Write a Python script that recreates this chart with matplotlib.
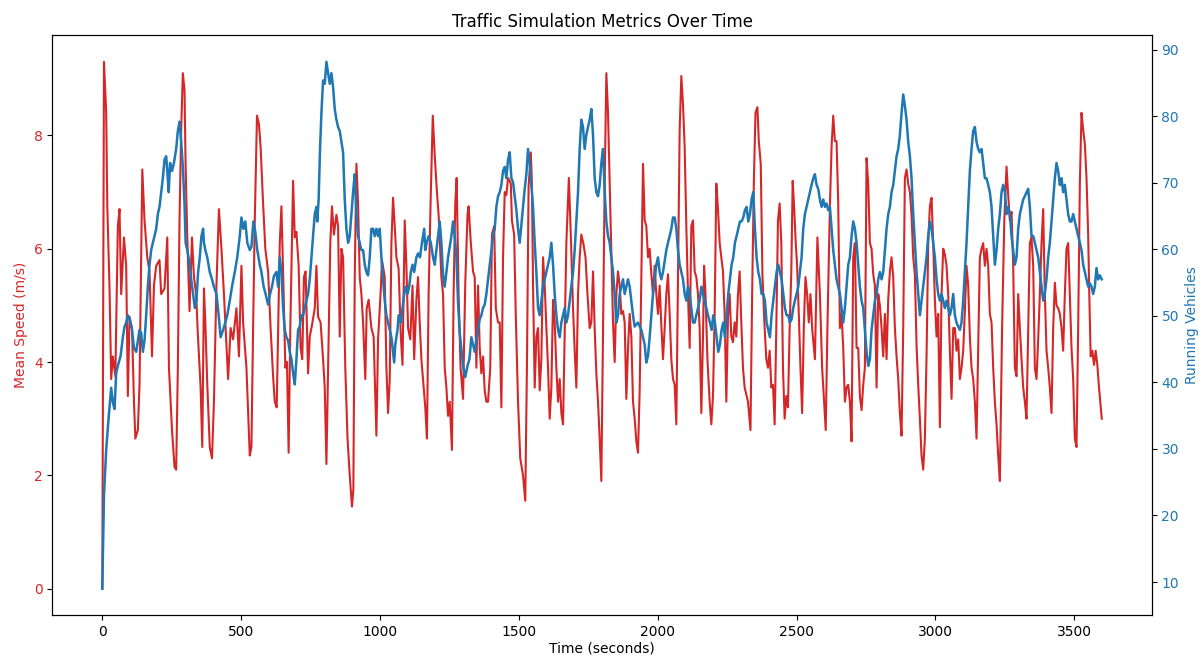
import matplotlib
matplotlib.use("Agg")
import matplotlib.pyplot as plt

# values (peaks / troughs of each trace)
speed_time = [
    0, 6, 14, 18, 26, 32, 38, 47, 56, 62, 68, 78, 86, 92, 98, 107, 114, 119, 128, 134,
    144, 152, 162, 170, 179, 186, 194, 206, 212, 224, 234, 240, 251, 260, 266, 272, 278, 284, 290, 296,
    300, 306, 314, 323, 330, 338, 344, 354, 360, 366, 371, 378, 387, 395, 402, 411, 420, 429, 438, 447,
    453, 462, 471, 483, 492, 501, 507, 519, 531, 537, 543, 549, 557, 564, 570, 579, 587, 597, 606, 615,
    621, 628, 639, 645, 653, 659, 665, 671, 677, 687, 693, 699, 707, 714, 720, 726, 732, 741, 747, 755,
    765, 771, 777, 786, 795, 801, 807, 813, 821, 827, 834, 843, 849, 855, 861, 867, 875, 883, 891, 899,
    904, 909, 915, 921, 927, 933, 939, 947, 952, 959, 969, 977, 987, 993, 1003, 1007, 1017, 1023, 1029, 1035,
    1041, 1047, 1053, 1059, 1067, 1075, 1081, 1089, 1095, 1101, 1109, 1117, 1123, 1131, 1137, 1143, 1149, 1157, 1163, 1169,
    1175, 1183, 1190, 1197, 1205, 1211, 1221, 1227, 1233, 1239, 1245, 1251, 1259, 1265, 1271, 1276, 1283, 1290, 1299, 1307,
    1315, 1319, 1327, 1335, 1341, 1347, 1353, 1359, 1365, 1371, 1377, 1383, 1389, 1397, 1403, 1411, 1417, 1425, 1431, 1437,
    1443, 1449, 1455, 1461, 1471, 1475, 1483, 1489, 1497, 1505, 1515, 1523, 1529, 1535, 1543, 1547, 1551, 1557, 1563, 1569,
    1575, 1581, 1587, 1593, 1599, 1605, 1611, 1617, 1623, 1629, 1635, 1641, 1647, 1653, 1659, 1665, 1671, 1680, 1687, 1695,
    1701, 1707, 1713, 1719, 1725, 1732, 1740, 1747, 1755, 1761, 1767, 1773, 1779, 1785, 1791, 1797, 1803, 1809, 1815, 1821,
    1827, 1833, 1839, 1845, 1851, 1857, 1863, 1869, 1875, 1881, 1887, 1893, 1899, 1905, 1911, 1917, 1923, 1929, 1935, 1947,
    1953, 1959, 1965, 1971, 1977, 1983, 1989, 1995, 2001, 2007, 2013, 2019, 2025, 2031, 2037, 2043, 2049, 2055, 2061, 2067,
    2073, 2079, 2085, 2091, 2097, 2103, 2109, 2115, 2121, 2127, 2133, 2139, 2145, 2151, 2157, 2163, 2167, 2172, 2179, 2187,
    2193, 2199, 2205, 2211, 2217, 2223, 2229, 2235, 2241, 2247, 2253, 2259, 2265, 2271, 2277, 2283, 2289, 2295, 2301, 2307,
    2313, 2325, 2334, 2340, 2346, 2352, 2359, 2364, 2371, 2377, 2385, 2391, 2397, 2403, 2409, 2415, 2421, 2427, 2433, 2439,
    2445, 2451, 2457, 2463, 2469, 2475, 2481, 2486, 2491, 2497, 2502, 2508, 2514, 2520, 2526, 2532, 2538, 2544, 2550, 2556,
    2566, 2575, 2584, 2592, 2599, 2605, 2611, 2620, 2626, 2632, 2638, 2644, 2650, 2656, 2662, 2668, 2674, 2680, 2686, 2692,
    2698, 2704, 2710, 2716, 2722, 2728, 2734, 2740, 2746, 2752, 2758, 2764, 2770, 2776, 2782, 2788, 2794, 2800, 2806, 2812,
    2818, 2824, 2830, 2836, 2842, 2848, 2854, 2860, 2866, 2872, 2878, 2884, 2890, 2896, 2902, 2908, 2914, 2920, 2926, 2932,
    2938, 2944, 2950, 2956, 2962, 2968, 2974, 2980, 2986, 2992, 2998, 3004, 3010, 3016, 3022, 3028, 3034, 3040, 3046, 3052,
    3058, 3064, 3070, 3076, 3082, 3088, 3094, 3100, 3106, 3112, 3118, 3124, 3130, 3136, 3142, 3148, 3154, 3160, 3166, 3172,
    3178, 3184, 3190, 3196, 3202, 3208, 3214, 3220, 3226, 3232, 3240, 3248, 3256, 3262, 3268, 3274, 3280, 3286, 3292, 3298,
    3304, 3310, 3316, 3322, 3328, 3334, 3340, 3346, 3352, 3358, 3364, 3370, 3376, 3382, 3388, 3394, 3400, 3406, 3412, 3418,
    3424, 3430, 3436, 3442, 3448, 3454, 3460, 3466, 3472, 3478, 3484, 3490, 3496, 3502, 3508, 3514, 3520, 3526, 3532, 3538,
    3544, 3550, 3554, 3559, 3565, 3571, 3577, 3583, 3589, 3599,
]
mean_speed = [
    0, 9.3, 8.4, 6.75, 5.3, 3.7, 4.1, 3.75, 6.4, 6.7, 5.2, 6.2, 5.7, 3.4, 4.8, 4.6, 3.3, 2.65, 2.8, 3.6,
    7.4, 6.5, 5.85, 5.6, 4.1, 5.35, 5.7, 5.8, 5.2, 5.3, 6.2, 3.9, 2.8, 2.15, 2.1, 3.9, 6.5, 8.1, 9.1, 8.8,
    7.45, 6.2, 4.9, 6.2, 5.5, 5.2, 4.5, 3.55, 2.5, 5.3, 4.7, 3.6, 2.5, 2.3, 3.3, 5.35, 6.7, 6.0, 5.2, 4.3,
    3.7, 4.6, 4.4, 4.95, 4.1, 5.7, 4.7, 3.9, 2.35, 2.5, 4.6, 6.5, 8.35, 8.2, 7.8, 6.8, 6.0, 5.6, 4.6, 3.75,
    3.3, 3.2, 6.1, 6.75, 5.2, 3.9, 4.0, 2.4, 4.6, 7.2, 6.2, 6.3, 5.7, 4.25, 4.05, 5.5, 5.6, 3.8, 4.45, 4.65,
    4.95, 5.7, 4.8, 4.7, 4.05, 3.55, 2.2, 3.9, 6.1, 6.75, 6.25, 6.6, 6.4, 4.45, 6.0, 5.85, 3.9, 2.65, 2.0, 1.45,
    1.75, 5.5, 7.5, 6.8, 5.5, 5.2, 4.7, 3.7, 4.95, 5.1, 4.6, 4.45, 2.7, 4.4, 5.3, 5.8, 5.5, 3.9, 3.1, 3.7,
    6.1, 6.9, 6.4, 5.85, 5.65, 4.45, 3.95, 6.5, 5.7, 4.6, 4.4, 5.35, 4.05, 5.1, 5.5, 4.7, 4.05, 3.55, 3.2, 2.65,
    5.2, 7.0, 8.35, 7.65, 7.0, 6.6, 5.5, 5.2, 3.9, 3.55, 3.05, 3.3, 2.45, 5.2, 6.8, 7.25, 5.2, 3.9, 3.35, 5.4,
    6.6, 6.75, 6.1, 5.6, 5.5, 3.9, 5.35, 4.25, 3.8, 4.1, 3.5, 3.3, 3.3, 3.9, 6.25, 6.4, 4.95, 4.7, 4.7, 3.2,
    5.85, 7.0, 6.95, 7.25, 7.15, 6.5, 6.25, 4.8, 3.3, 2.3, 2.0, 1.55, 3.9, 7.1, 7.7, 7.15, 5.35, 3.55, 4.45, 4.6,
    3.5, 4.05, 5.85, 5.35, 4.6, 3.9, 3.0, 3.55, 5.1, 4.7, 3.9, 3.3, 3.7, 3.1, 2.9, 4.45, 6.1, 7.25, 6.25, 4.95,
    4.2, 3.55, 5.2, 5.85, 6.25, 6.1, 5.85, 5.2, 4.6, 4.7, 5.6, 4.6, 3.8, 3.3, 2.65, 1.9, 4.6, 7.15, 9.1, 8.4,
    7.15, 5.85, 4.7, 4.0, 5.2, 5.6, 5.35, 4.85, 4.9, 4.7, 3.35, 4.25, 4.85, 4.45, 3.3, 3.0, 2.6, 2.4, 3.5, 7.5,
    6.5, 6.4, 5.85, 6.0, 5.55, 5.2, 5.7, 5.2, 4.85, 5.35, 4.65, 4.05, 4.6, 5.2, 5.55, 4.85, 4.05, 3.7, 3.6, 2.9,
    5.55, 8.1, 9.05, 8.55, 7.8, 6.4, 5.2, 4.25, 6.4, 6.5, 5.6, 5.5, 5.2, 4.6, 3.1, 4.45, 5.7, 5.2, 4.05, 3.3,
    2.9, 3.4, 4.85, 7.15, 6.7, 6.1, 5.85, 5.6, 4.85, 3.3, 4.8, 5.2, 4.45, 4.35, 4.7, 4.45, 5.2, 5.6, 4.7, 3.9,
    3.55, 3.3, 2.8, 5.2, 7.15, 8.4, 8.5, 7.9, 7.5, 5.55, 4.6, 4.05, 3.9, 4.2, 3.55, 3.6, 2.9, 4.6, 6.5, 6.8,
    6.1, 3.9, 3.0, 3.4, 3.2, 4.6, 5.6, 7.2, 6.75, 6.1, 5.7, 4.85, 3.9, 3.1, 4.6, 5.5, 5.2, 4.7, 5.2, 4.6,
    4.05, 6.2, 5.2, 3.9, 3.3, 2.8, 4.6, 6.75, 7.8, 8.35, 7.9, 7.9, 6.8, 4.6, 4.85, 4.25, 3.3, 3.55, 3.6, 3.3,
    2.6, 5.85, 6.1, 4.25, 4.25, 3.4, 3.15, 3.6, 3.9, 7.6, 7.15, 6.1, 6.0, 5.55, 5.35, 3.55, 5.2, 5.0, 4.6, 4.1,
    4.85, 4.05, 5.1, 5.6, 5.85, 5.5, 4.6, 4.1, 3.7, 3.1, 2.7, 4.6, 7.25, 7.4, 7.15, 7.0, 6.6, 5.85, 5.55, 4.3,
    3.6, 3.0, 2.35, 2.1, 2.65, 4.1, 6.1, 6.75, 6.9, 6.1, 5.1, 4.45, 4.85, 2.85, 5.2, 6.0, 5.9, 5.7, 5.2, 4.2,
    3.35, 4.6, 4.6, 4.2, 4.4, 3.7, 3.9, 4.2, 4.9, 5.7, 5.35, 4.45, 3.9, 3.7, 3.3, 2.65, 4.25, 5.85, 6.0, 6.1,
    5.7, 6.0, 5.7, 4.85, 4.7, 3.9, 3.3, 2.9, 2.35, 1.9, 4.6, 6.5, 7.45, 6.95, 6.5, 6.65, 5.7, 3.9, 3.75, 5.2,
    4.6, 4.05, 3.55, 3.3, 3.0, 4.6, 6.1, 6.2, 5.7, 3.9, 3.7, 4.4, 5.2, 6.1, 6.7, 5.2, 4.2, 3.9, 3.55, 3.1,
    4.6, 5.4, 5.0, 4.95, 4.85, 4.6, 4.2, 5.2, 6.0, 6.1, 5.2, 4.25, 3.7, 2.65, 2.5, 4.6, 7.15, 8.4, 8.1, 7.85,
    7.25, 6.25, 5.2, 4.1, 4.2, 3.95, 4.2, 3.95, 3.55, 3.0,
]

vehicles_time = [
    0, 6, 14, 23, 32, 38, 44, 50, 56, 66, 74, 80, 86, 92, 98, 107, 114, 122, 128, 134,
    140, 146, 152, 158, 164, 170, 176, 182, 188, 194, 200, 206, 212, 218, 224, 230, 234, 239, 244, 251,
    258, 266, 272, 278, 284, 290, 296, 300, 306, 315, 320, 327, 333, 339, 345, 351, 357, 363, 366, 371,
    378, 387, 395, 402, 411, 419, 426, 435, 443, 450, 459, 467, 477, 486, 495, 501, 508, 515, 522, 531,
    537, 544, 551, 558, 567, 573, 581, 588, 597, 604, 611, 618, 627, 633, 639, 645, 651, 657, 663, 669,
    675, 681, 687, 693, 699, 705, 711, 717, 723, 729, 735, 741, 747, 753, 759, 765, 771, 774, 779, 784,
    789, 795, 801, 807, 813, 819, 825, 831, 837, 843, 849, 855, 861, 867, 873, 879, 885, 891, 897, 903,
    909, 915, 921, 927, 933, 939, 945, 951, 957, 963, 969, 975, 981, 987, 993, 999, 1005, 1011, 1017, 1023,
    1029, 1035, 1041, 1047, 1051, 1055, 1063, 1067, 1075, 1081, 1087, 1093, 1099, 1105, 1111, 1117, 1123, 1131, 1137, 1144,
    1151, 1159, 1163, 1168, 1175, 1183, 1191, 1197, 1203, 1209, 1215, 1221, 1227, 1233, 1239, 1245, 1251, 1257, 1263, 1269,
    1275, 1281, 1287, 1293, 1299, 1307, 1315, 1322, 1329, 1335, 1341, 1347, 1353, 1359, 1365, 1371, 1377, 1383, 1389, 1395,
    1401, 1407, 1413, 1419, 1425, 1431, 1437, 1443, 1449, 1455, 1461, 1467, 1473, 1479, 1485, 1491, 1497, 1503, 1509, 1515,
    1521, 1527, 1533, 1539, 1545, 1551, 1557, 1563, 1569, 1575, 1581, 1587, 1593, 1599, 1605, 1611, 1617, 1623, 1629, 1635,
    1641, 1647, 1653, 1659, 1665, 1671, 1677, 1683, 1689, 1695, 1701, 1707, 1713, 1719, 1725, 1731, 1737, 1743, 1749, 1755,
    1761, 1767, 1773, 1779, 1785, 1791, 1797, 1803, 1809, 1815, 1821, 1827, 1833, 1839, 1845, 1851, 1857, 1863, 1869, 1875,
    1881, 1887, 1893, 1899, 1905, 1911, 1917, 1929, 1941, 1953, 1959, 1965, 1971, 1977, 1983, 1989, 1995, 2001, 2007, 2013,
    2019, 2025, 2031, 2037, 2043, 2049, 2055, 2061, 2067, 2073, 2079, 2085, 2091, 2097, 2103, 2109, 2115, 2121, 2127, 2133,
    2139, 2145, 2151, 2157, 2163, 2169, 2175, 2181, 2188, 2194, 2200, 2206, 2212, 2218, 2224, 2230, 2236, 2242, 2248, 2254,
    2260, 2266, 2272, 2278, 2284, 2290, 2296, 2302, 2308, 2314, 2320, 2326, 2332, 2338, 2344, 2350, 2356, 2362, 2368, 2374,
    2380, 2386, 2392, 2398, 2404, 2410, 2416, 2422, 2428, 2434, 2440, 2446, 2452, 2458, 2464, 2470, 2476, 2482, 2488, 2494,
    2500, 2506, 2512, 2518, 2524, 2530, 2536, 2542, 2548, 2554, 2560, 2566, 2572, 2578, 2584, 2590, 2596, 2602, 2608, 2614,
    2620, 2626, 2632, 2638, 2644, 2650, 2656, 2662, 2668, 2674, 2680, 2686, 2692, 2698, 2704, 2710, 2716, 2722, 2728, 2734,
    2740, 2746, 2752, 2758, 2764, 2770, 2776, 2782, 2788, 2794, 2800, 2806, 2812, 2818, 2824, 2830, 2836, 2842, 2848, 2854,
    2860, 2866, 2872, 2878, 2884, 2890, 2896, 2902, 2908, 2914, 2920, 2926, 2932, 2938, 2944, 2950, 2956, 2962, 2968, 2974,
    2980, 2986, 2992, 2998, 3004, 3010, 3016, 3022, 3028, 3034, 3040, 3046, 3052, 3058, 3064, 3070, 3076, 3082, 3088, 3094,
    3100, 3106, 3112, 3118, 3124, 3130, 3136, 3142, 3148, 3154, 3160, 3166, 3172, 3178, 3184, 3190, 3196, 3202, 3208, 3214,
    3220, 3226, 3232, 3238, 3244, 3250, 3256, 3262, 3268, 3274, 3280, 3286, 3292, 3298, 3304, 3310, 3316, 3322, 3328, 3334,
    3340, 3346, 3352, 3358, 3364, 3370, 3376, 3382, 3388, 3394, 3400, 3406, 3412, 3418, 3424, 3430, 3436, 3442, 3448, 3454,
    3460, 3466, 3472, 3478, 3484, 3490, 3496, 3502, 3508, 3514, 3520, 3526, 3532, 3538, 3544, 3550, 3556, 3562, 3568, 3574,
    3580, 3586, 3592, 3599,
]
running_vehicles = [
    9, 22.9, 29.9, 34.8, 39.2, 37, 36, 41.4, 42.5, 44, 46.8, 48.4, 49, 50.1, 49.5, 47.9, 45.2, 44.6, 46.3, 47.9,
    47.4, 44.6, 46.3, 50.1, 54.4, 57.7, 59.9, 61, 62, 63.1, 65.3, 66.4, 68.6, 70.7, 73.5, 74, 71.8, 68.6, 73, 71.8,
    73, 75.1, 77.8, 79.2, 76.2, 72.4, 66.9, 61, 59.9, 57.7, 55.5, 53.3, 51.2, 52.3, 56.6, 58.8, 62, 63.1, 61, 59.9,
    58.8, 56.6, 55.5, 54.4, 53.3, 50.1, 46.8, 47.9, 49, 50.1, 52.3, 54.4, 56.6, 58.8, 62, 64.8, 63.1, 64.2, 61, 59.9,
    60.4, 64.2, 62.6, 59.9, 57.7, 56.6, 54.4, 53.3, 51.7, 53.3, 54.4, 56, 56.6, 54.4, 58.8, 56.6, 51.2, 47.9, 46.8, 46.3,
    44.6, 43.5, 41.4, 39.7, 43.5, 47.9, 48.4, 50.1, 50.1, 51.2, 52.3, 53.3, 55.5, 58.8, 62, 65.3, 66.4, 64.2, 67.5, 75.1,
    80.5, 85.4, 84.9, 88.2, 86.5, 84.9, 86.5, 84.4, 81.1, 79.5, 78.4, 77.8, 76.2, 74.6, 67.5, 63.1, 61, 62, 65.3, 68.6,
    71.3, 65.3, 62, 61, 59.9, 59.9, 57.7, 56.6, 56.1, 58.8, 63.1, 63.1, 62, 63.1, 62, 63.1, 58.8, 55.5, 52.3, 50.1,
    49, 47.9, 46.8, 44.6, 43, 45.7, 47.9, 50.1, 49, 51.2, 53.3, 54.4, 53.3, 54.4, 56.6, 57.7, 56.6, 58.8, 59.4, 58.8,
    61, 63.1, 59.9, 61, 62, 61, 58.8, 57.7, 59.9, 62, 64.2, 61, 56.1, 54.4, 56.6, 58.8, 60.4, 62, 64.2, 62,
    59, 52, 47.5, 45, 42.5, 40.8, 42.5, 43.5, 46.8, 45.7, 44.6, 46.3, 47.9, 49.5, 50.1, 51.2, 51.7, 53.3, 55.5, 57.7,
    59.9, 62, 63.1, 66.4, 68, 68.6, 69.7, 71.8, 72.4, 70.7, 73.5, 74.6, 70.7, 70.1, 68, 65.9, 63.1, 61, 63.7, 66.4,
    69.1, 71.3, 75.1, 73, 69.7, 66.4, 61, 56.6, 51.2, 50.1, 52.3, 54.4, 55.5, 56.6, 57.7, 58.8, 61, 57.7, 53.3, 50.1,
    47.9, 46.8, 49, 50.1, 51.2, 49, 50.1, 52.3, 54.4, 56.6, 59.9, 64.2, 68.6, 75.1, 79.5, 78.4, 75.1, 77.2, 78.4, 79.5,
    81.1, 77.2, 70.7, 68.6, 68, 69.7, 73, 75.1, 68.6, 64.2, 62, 61, 58.8, 56.6, 53.3, 49, 50.1, 53.3, 54.4, 55.5,
    53.3, 54.4, 55.5, 54.4, 52.3, 50.1, 48.4, 49, 47.9, 45.7, 43, 44, 46.8, 50.1, 53.3, 55.5, 57.7, 58.8, 56.6, 55.5,
    56.6, 58.2, 59.9, 61, 62, 63.1, 64.8, 64.8, 63.1, 59.9, 57.7, 56.6, 55.5, 53.3, 52.3, 54.4, 53.3, 51.2, 49, 49,
    50.1, 51.2, 52.3, 54.4, 53.3, 52.3, 51.2, 50.1, 49, 47.9, 50.1, 49, 46.8, 44.6, 45.7, 47.9, 49, 46.8, 50.1, 53.3,
    55.5, 57.7, 58.8, 61, 62, 63.1, 64.2, 64.2, 64.8, 65.9, 66.4, 64.2, 65.3, 67.5, 68.6, 63.1, 58.8, 56.6, 55.5, 53.3,
    53.3, 52.3, 49, 47.9, 46.8, 50.1, 52.3, 54.4, 56.6, 57.7, 56.6, 55.5, 53.3, 51.2, 50.1, 50.1, 49, 49.5, 51.2, 52.3,
    53.3, 54.4, 56.6, 58.8, 63.1, 65.3, 66.4, 67.5, 68.6, 69.7, 70.7, 71.3, 69.7, 69.1, 67.5, 66.4, 67.5, 66.4, 66.9, 65.9,
    66.4, 63.1, 59.9, 57.7, 55.5, 54.4, 53.3, 51.2, 49, 51.2, 54.4, 57.7, 58.8, 62, 64.2, 63.1, 61, 57.7, 54.4, 52.3,
    51.2, 47.9, 44.6, 42.5, 43.5, 47.9, 50.1, 52.3, 53.3, 55.5, 56.6, 55.5, 56.6, 59.9, 63.1, 65.3, 66.4, 68.6, 69.7, 71.8,
    74, 75.1, 77.2, 80.5, 83.3, 81.6, 79.5, 76.2, 74, 70.7, 65.3, 61, 56.6, 53.3, 50.1, 52.3, 54.4, 56.6, 58.8, 62,
    64.2, 63.1, 61, 58.8, 55.5, 53.3, 52.3, 53.3, 52.3, 51.2, 52.3, 51.2, 50.1, 51.2, 53.3, 50.1, 49, 48.4, 47.9, 49,
    52.3, 56.6, 61, 66.4, 71.8, 75.1, 77.8, 78.4, 76.2, 75.1, 74.6, 75.1, 73, 70.7, 70.7, 69.7, 68.6, 66.4, 62, 57.7,
    59.9, 63.1, 65.3, 68.6, 69.7, 68.6, 65.3, 66.4, 65.3, 62, 59.9, 57.7, 58.8, 63.1, 65.3, 66.4, 67.5, 68, 68.6, 69.1,
    66.4, 62, 62, 61, 59.9, 58.8, 56.6, 54.4, 52.3, 53.3, 55.5, 58.8, 61, 64.2, 67.5, 70.7, 73, 71.8, 69.7, 70.7,
    68.6, 69.7, 67.5, 65.3, 64.2, 64.2, 65.3, 64.2, 63.1, 62, 61, 59.9, 57.7, 56.6, 55.5, 54.4, 54.9, 54.4, 53.3, 54.4,
    57.2, 55.5, 56.1, 55.5,
]

plt.rcParams['font.family'] = ['DejaVu Sans']
plt.rcParams['font.size'] = 10

fig, ax1 = plt.subplots(figsize=(12.03, 6.62), dpi=100)
fig.subplots_adjust(left=0.0435, right=0.9574, bottom=0.071, top=0.9464)

ax1.plot(speed_time, mean_speed, color='tab:red', linewidth=1.5)
ax1.set_xlabel('Time (seconds)', labelpad=2)
ax1.set_ylabel('Mean Speed (m/s)', color='tab:red')
ax1.tick_params(axis='y', labelcolor='tab:red')

ax2 = ax1.twinx()
ax2.plot(vehicles_time, running_vehicles, color='tab:blue', linewidth=1.8)
ax2.set_ylabel('Running Vehicles', color='tab:blue')
ax2.tick_params(axis='y', labelcolor='tab:blue')

ax1.set_title('Traffic Simulation Metrics Over Time', fontsize=12, pad=6)

fig.savefig('out.png', dpi=100)
